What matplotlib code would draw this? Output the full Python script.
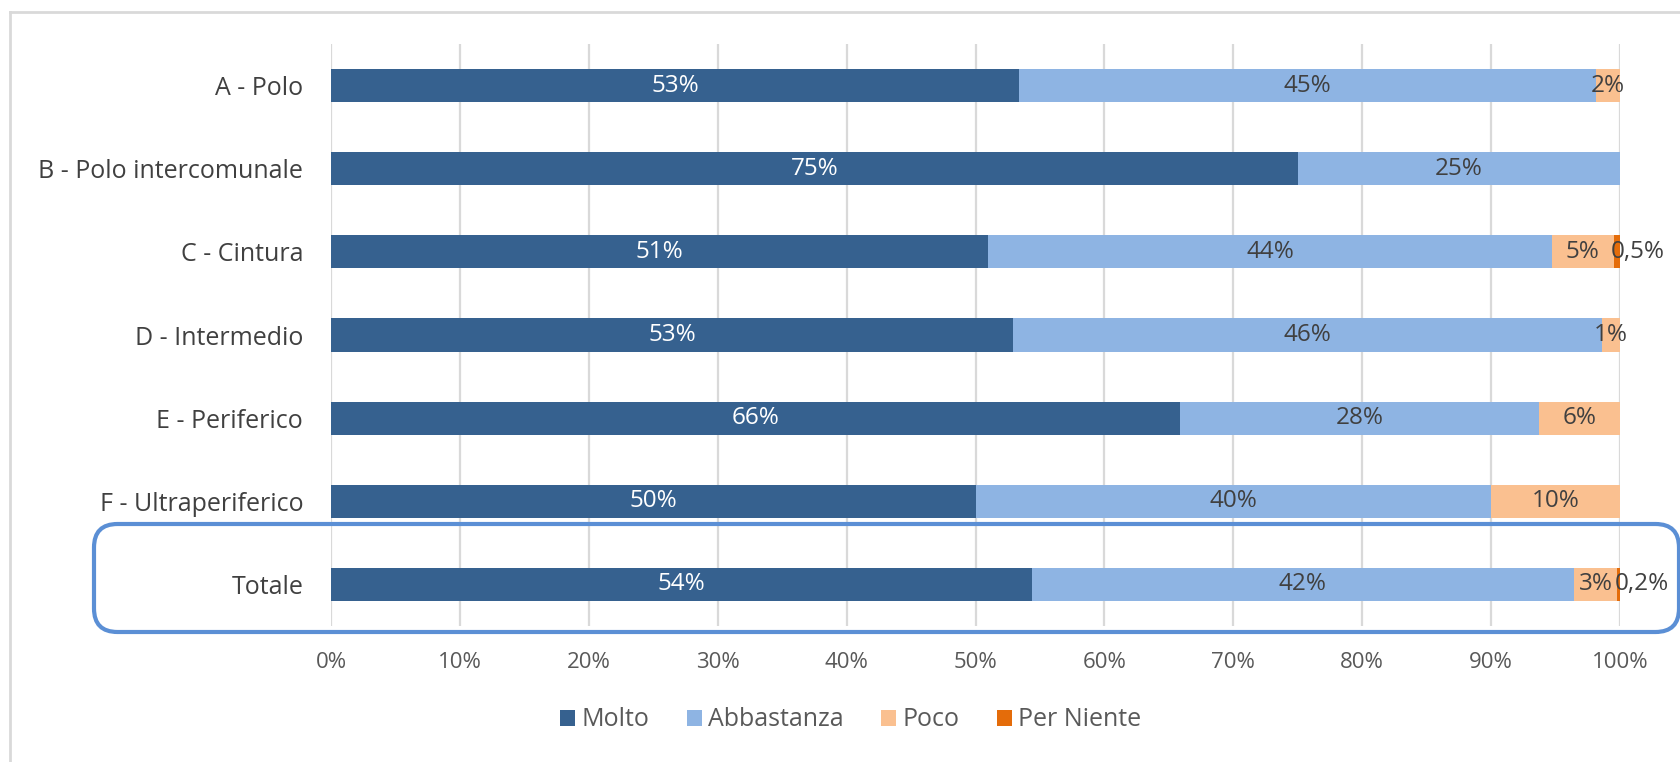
import matplotlib.pyplot as plt
from matplotlib.patches import FancyBboxPatch
from matplotlib.lines import Line2D

# data (percent)
categories = ['A - Polo', 'B - Polo intercomunale', 'C - Cintura', 'D - Intermedio',
              'E - Periferico', 'F - Ultraperiferico', 'Totale']
series_names = ['Molto', 'Abbastanza', 'Poco', 'Per Niente']
molto = [53.4, 75.0, 51.0, 52.9, 65.9, 50.0, 54.4]
abbastanza = [44.7, 25.0, 43.7, 45.7, 27.8, 40.0, 42.0]
poco = [1.9, 0.0, 4.8, 1.4, 6.3, 10.0, 3.4]
per_niente = [0.0, 0.0, 0.5, 0.0, 0.0, 0.0, 0.2]

molto_lbl = ['53%', '75%', '51%', '53%', '66%', '50%', '54%']
abbastanza_lbl = ['45%', '25%', '44%', '46%', '28%', '40%', '42%']
poco_lbl = ['2%', '', '5%', '1%', '6%', '10%', '3%']
per_niente_lbl = ['', '', '0,5%', '', '', '', '0,2%']

xticks = [0, 10, 20, 30, 40, 50, 60, 70, 80, 90, 100]

colors = ['#36618F', '#8EB4E3', '#FAC090', '#E46C0A']
label_colors = ['white', '#404040', '#404040', '#404040']

plt.rcParams['font.family'] = ['Open Sans', 'DejaVu Sans']

fig = plt.figure(figsize=(16.8, 7.62), dpi=100)
ax = fig.add_axes([331 / 1680, 1 - 626 / 762, (1620 - 331) / 1680, (626 - 44) / 762])

ypos = list(range(len(categories)))
values = [molto, abbastanza, poco, per_niente]
labels = [molto_lbl, abbastanza_lbl, poco_lbl, per_niente_lbl]
left = [0.0] * len(categories)
for k, (vals, lbls) in enumerate(zip(values, labels)):
    ax.barh(ypos, vals, left=left, height=0.4, color=colors[k], label=series_names[k], zorder=3)
    for i, (v, l) in enumerate(zip(vals, lbls)):
        if not l:
            continue
        if k == 3:
            ax.text(left[i] - 0.2, i, l, ha='left', va='center', fontsize=17.5,
                    color=label_colors[k], zorder=4)
        else:
            ax.text(left[i] + v / 2, i, l, ha='center', va='center', fontsize=17.5,
                    color=label_colors[k], zorder=4)
    left = [a + b for a, b in zip(left, vals)]

ax.set_ylim(len(categories) - 0.5, -0.5)
ax.set_xlim(0, 100)
ax.set_yticks(ypos)
ax.set_yticklabels(categories, fontsize=18, color='#404040')
ax.set_xticks(xticks)
ax.set_xticklabels([f'{t}%' for t in xticks], fontsize=16, color='#595959')
ax.tick_params(axis='y', length=0, pad=20)
ax.tick_params(axis='x', length=0, pad=19)
ax.grid(axis='x', color='#D9D9D9', linewidth=1.6, zorder=0)
for s in ax.spines.values():
    s.set_visible(False)
ax.set_axisbelow(True)

fig.legend(loc='center', bbox_to_anchor=(851 / 1680, 1 - 720 / 762), ncol=4, frameon=False,
           fontsize=18, handlelength=0.6, handleheight=0.6, handletextpad=0.25,
           columnspacing=1.5, labelcolor='#595959')

# outer chart frame
fig.add_artist(Line2D([10 / 1680, 1.0], [1 - 12 / 762, 1 - 12 / 762], transform=fig.transFigure,
                      color='#D9D9D9', linewidth=2))
fig.add_artist(Line2D([10 / 1680, 10 / 1680], [0.0, 1 - 12 / 762], transform=fig.transFigure,
                      color='#D9D9D9', linewidth=2))

# rounded highlight box around "Totale"
box = FancyBboxPatch((94 / 1680, 1 - 632 / 762), (1679 - 94) / 1680, (632 - 524) / 762,
                     boxstyle='round,pad=0,rounding_size=0.014', mutation_aspect=1680 / 762,
                     transform=fig.transFigure, fill=False, edgecolor='#5B8FD5', linewidth=3)
fig.add_artist(box)

fig.savefig('out.png', dpi=100)
